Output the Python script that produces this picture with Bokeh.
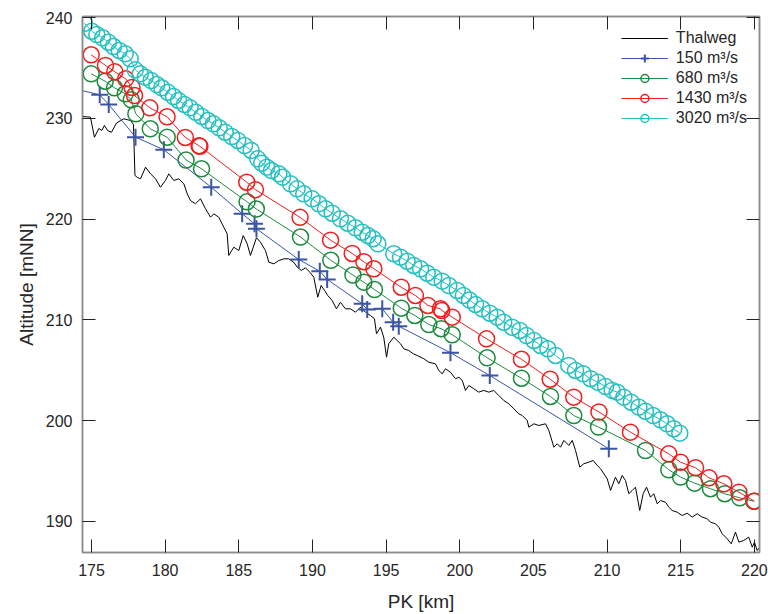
from bokeh.plotting import figure
from bokeh.models import Range1d, LinearAxis, FixedTicker, Legend, LegendItem
from bokeh.embed import file_html
from bokeh.resources import INLINE

# ---------------- data ----------------
thalweg_pk = [174.39, 174.93, 175.20, 175.50, 175.70, 175.88, 176.09, 176.36, 176.70, 177.19,
              177.65, 177.85, 177.95, 178.12, 178.33, 178.67, 179.01, 179.35, 179.68, 180.02,
              180.25, 180.59, 180.93, 181.27, 181.50, 181.72, 182.06, 182.40, 182.74, 183.08,
              183.30, 183.64, 183.98, 184.21, 184.32, 184.66, 185.00, 185.30, 185.57, 185.79,
              186.20, 186.47, 186.81, 187.04, 187.38, 187.72, 188.06, 188.39, 188.73, 188.97,
              189.24, 189.53, 189.82, 190.09, 190.36, 190.59, 190.82, 191.04, 191.34, 191.63,
              191.90, 192.24, 192.58, 192.92, 193.26, 193.60, 193.94, 194.21, 194.35, 194.62,
              194.84, 195.03, 195.18, 195.52, 195.75, 195.98, 196.20, 196.54, 196.84, 197.11,
              197.56, 197.90, 198.35, 198.58, 198.81, 199.03, 199.37, 199.71, 199.94, 200.17,
              200.39, 200.62, 200.96, 201.29, 201.63, 201.97, 202.31, 202.65, 202.99, 203.33,
              203.67, 204.01, 204.24, 204.58, 204.69, 205.03, 205.37, 205.82, 206.05, 206.39,
              206.62, 206.84, 207.07, 207.41, 207.64, 207.86, 208.15, 208.42, 208.76, 209.06,
              209.33, 209.56, 210.01, 210.24, 210.57, 210.80, 211.03, 211.25, 211.48, 211.71,
              211.93, 212.22, 212.45, 212.68, 212.95, 213.17, 213.41, 213.63, 213.97, 214.19,
              214.42, 214.76, 215.10, 215.44, 215.78, 216.12, 216.46, 216.80, 217.02, 217.36,
              217.59, 217.82, 218.16, 218.43, 218.72, 218.95, 219.28, 219.62, 219.86, 220.01,
              220.19, 220.37]
thalweg_alt = [230.18, 230.11, 228.12, 228.99, 228.79, 229.29, 228.79, 228.62, 229.53, 229.95,
               229.78, 229.38, 224.33, 224.13, 224.00, 225.15, 224.49, 224.00, 223.16, 223.83,
               224.49, 223.83, 224.00, 223.50, 222.51, 221.84, 221.52, 222.01, 221.02, 220.19,
               220.52, 220.19, 219.20, 218.54, 216.39, 217.21, 216.88, 218.37, 217.55, 216.39,
               218.15, 217.71, 216.88, 215.72, 215.56, 215.89, 216.06, 216.06, 215.72, 215.23,
               214.90, 215.17, 214.73, 214.24, 212.25, 213.41, 212.92, 212.42, 211.92, 211.10,
               211.75, 211.10, 211.10, 210.76, 211.26, 210.76, 210.43, 210.11, 208.62, 209.28,
               208.28, 206.30, 207.63, 208.28, 207.96, 207.63, 207.13, 206.96, 206.64, 206.47,
               206.14, 205.80, 205.64, 204.98, 204.65, 205.15, 204.81, 204.16, 204.31, 203.99,
               203.00, 203.49, 203.16, 202.83, 203.00, 202.83, 203.00, 202.50, 202.00, 201.68,
               201.18, 200.68, 200.52, 200.02, 199.35, 199.69, 199.52, 199.69, 199.03, 197.37,
               197.71, 197.37, 198.04, 197.54, 198.04, 197.05, 195.39, 195.72, 195.88, 196.05,
               195.56, 195.23, 194.24, 193.08, 194.39, 193.74, 194.56, 194.07, 192.75, 193.07,
               193.40, 191.09, 192.75, 193.40, 192.41, 192.75, 191.75, 192.08, 191.91, 191.42,
               191.09, 190.92, 190.59, 190.82, 190.43, 190.76, 190.43, 190.27, 189.93, 189.77,
               189.43, 188.78, 188.28, 187.78, 188.94, 187.95, 188.11, 188.44, 187.45, 187.95,
               187.12, 187.45]

q150_pk = [172.00, 175.56, 176.17, 177.99, 179.91, 183.13, 185.23, 186.07, 186.20, 189.07,
           190.50, 191.00, 193.38, 193.72, 194.74, 195.48, 195.86, 199.37, 202.04, 210.12]
q150_alt = [233.58, 232.33, 231.37, 228.13, 226.88, 223.16, 220.53, 219.53, 219.04, 215.99,
            214.83, 214.01, 211.60, 211.03, 211.10, 209.77, 209.37, 206.74, 204.48, 197.21]

q680_pk = [174.98, 175.93, 176.56, 177.29, 177.70, 178.01, 178.99, 180.14, 181.42, 182.47,
           185.56, 186.19, 189.19, 191.25, 192.75, 193.49, 194.21, 196.03, 196.95, 197.90,
           198.74, 199.49, 201.86, 204.19, 206.16, 207.74, 209.42, 212.61, 214.19, 214.99,
           215.94, 217.02, 217.99, 219.01, 219.96]
q680_alt = [234.41, 233.68, 233.03, 232.43, 231.84, 230.45, 228.96, 228.12, 225.86, 224.99,
            221.72, 221.00, 218.22, 215.91, 214.45, 213.74, 213.01, 211.16, 210.44, 209.54,
            209.12, 208.52, 206.24, 204.21, 202.40, 200.51, 199.37, 197.04, 195.13, 194.40,
            193.80, 193.25, 192.75, 192.35, 192.01]

q1430_pk = [174.98, 175.95, 176.58, 177.32, 177.75, 177.92, 178.96, 180.13, 181.37, 182.30,
            182.36, 185.54, 186.13, 189.16, 191.23, 192.70, 193.49, 194.17, 196.03, 196.99,
            197.84, 198.69, 198.78, 199.49, 201.82, 204.19, 206.14, 207.74, 209.45, 211.59,
            214.19, 214.99, 216.01, 216.92, 217.93, 218.95, 220.01]
q1430_alt = [236.30, 235.24, 234.62, 233.92, 233.06, 232.26, 231.04, 230.15, 228.10, 227.28,
             227.22, 223.66, 222.92, 220.17, 217.91, 216.59, 215.77, 215.07, 213.24, 212.42,
             211.43, 211.10, 210.93, 210.27, 208.12, 206.09, 204.11, 202.33, 200.86, 198.86,
             196.71, 195.88, 195.33, 194.33, 193.74, 192.91, 192.01]

q3020_pk = [174.52, 175.02, 175.36, 175.75, 176.15, 176.49, 176.88, 177.29, 177.63, 177.97,
            178.31, 178.65, 179.05, 179.43, 179.77, 180.18, 180.57, 180.91, 181.31, 181.70,
            182.08, 182.49, 182.90, 183.28, 183.67, 184.08, 184.52, 184.93, 185.39, 185.84,
            186.29, 186.56, 186.90, 187.22, 187.72, 187.97, 188.51, 188.96, 189.41, 189.98,
            190.43, 190.89, 191.34, 191.90, 192.40, 192.92, 193.38, 193.76, 194.12, 194.44,
            195.52, 195.98, 196.43, 196.88, 197.34, 197.79, 198.24, 198.81, 199.26, 199.83,
            200.25, 200.66, 201.07, 201.52, 202.04, 202.54, 202.99, 203.56, 204.08, 204.53,
            205.03, 205.48, 205.98, 206.50, 207.40, 207.86, 208.38, 208.88, 209.37, 209.90,
            210.35, 210.69, 211.14, 211.64, 212.16, 212.61, 213.13, 213.63, 214.08, 214.53,
            214.94]
q3020_alt = [239.43, 238.64, 238.31, 237.99, 237.55, 237.12, 236.73, 236.40, 235.90, 234.81,
             234.41, 234.08, 233.75, 233.35, 233.03, 232.59, 232.16, 231.77, 231.37, 231.04,
             230.60, 230.18, 229.78, 229.45, 229.06, 228.62, 228.19, 227.80, 227.30, 226.81,
             225.98, 225.55, 225.15, 224.82, 224.49, 224.16, 223.50, 223.00, 222.51, 222.01,
             221.52, 221.02, 220.58, 220.03, 219.59, 219.14, 218.70, 218.37, 218.05, 217.55,
             216.56, 216.22, 215.82, 215.40, 215.07, 214.63, 214.24, 213.84, 213.41, 212.92,
             212.42, 211.97, 211.53, 211.10, 210.66, 210.27, 209.77, 209.27, 208.95, 208.45,
             207.96, 207.46, 207.13, 206.47, 205.48, 204.98, 204.65, 204.16, 203.82, 203.39,
             203.00, 202.83, 202.33, 201.83, 201.34, 200.94, 200.51, 200.09, 199.69, 199.20,
             198.76]

x_ticks = [175, 180, 185, 190, 195, 200, 205, 210, 215, 220]
y_ticks = [190, 200, 210, 220, 230, 240]

labels = ["Thalweg", "150 m\u00b3/s", "680 m\u00b3/s", "1430 m\u00b3/s", "3020 m\u00b3/s"]
colors = ["#000000", "#3a55a6", "#1d8a3e", "#f21d1d", "#26c0c0"]

# ---------------- figure ----------------
FONT = "Liberation Sans"
TXT = "#262626"
FRAME = "#8c8c8c"

p = figure(width=768, height=614, output_backend="svg", toolbar_location=None,
           x_range=Range1d(174.39, 220.35), y_range=Range1d(186.92, 240.10),
           min_border_left=82, min_border_right=9, min_border_top=16, min_border_bottom=62,
           background_fill_color="white", border_fill_color="white")
p.xgrid.visible = False
p.ygrid.visible = False
p.outline_line_color = FRAME
p.outline_line_width = 1.5

for ax, ticks in ((p.xaxis[0], x_ticks), (p.yaxis[0], y_ticks)):
    ax.ticker = FixedTicker(ticks=ticks)
    ax.major_tick_in = 13
    ax.major_tick_out = 0
    ax.minor_tick_in = 0
    ax.minor_tick_out = 0
    ax.major_tick_line_color = "#222222"
    ax.axis_line_color = FRAME
    ax.axis_line_width = 1.5
    ax.major_label_text_font = FONT
    ax.major_label_text_font_size = "16px"
    ax.major_label_text_color = TXT
    ax.axis_label_text_font = FONT
    ax.axis_label_text_font_size = "19px"
    ax.axis_label_text_font_style = "normal"
    ax.axis_label_text_color = TXT

p.xaxis[0].axis_label = "PK [km]"
p.xaxis[0].major_label_standoff = 11
p.xaxis[0].axis_label_standoff = 12
p.yaxis[0].axis_label = "Altitude [mNN]"
p.yaxis[0].major_label_standoff = 10
p.yaxis[0].axis_label_standoff = 6

# mirrored ticks on top and right (labels not drawn)
for loc, ticks in (("above", x_ticks), ("right", y_ticks)):
    ax = LinearAxis(ticker=FixedTicker(ticks=ticks))
    ax.major_tick_in = 13
    ax.major_tick_out = 0
    ax.minor_tick_in = 0
    ax.minor_tick_out = 0
    ax.major_tick_line_color = "#222222"
    ax.axis_line_color = FRAME
    ax.axis_line_width = 1.5
    ax.major_label_text_font_size = "1px"
    ax.major_label_text_color = None
    ax.major_label_standoff = 0
    p.add_layout(ax, loc)

# ---------------- series ----------------
r_th = p.line(thalweg_pk, thalweg_alt, line_color=colors[0], line_width=1)

l150 = p.line(q150_pk, q150_alt, line_color=colors[1], line_width=1)
m150 = p.scatter(q150_pk, q150_alt, marker="cross", size=17, line_color=colors[1], line_width=2)

l680 = p.line(q680_pk, q680_alt, line_color=colors[2], line_width=1)
m680 = p.scatter(q680_pk, q680_alt, marker="circle", size=16, line_color=colors[2],
                 line_width=1.5, fill_color=None)

l1430 = p.line(q1430_pk, q1430_alt, line_color=colors[3], line_width=1)
m1430 = p.scatter(q1430_pk, q1430_alt, marker="circle", size=16, line_color=colors[3],
                  line_width=1.5, fill_color=None)

l3020 = p.line(q3020_pk, q3020_alt, line_color=colors[4], line_width=1)
m3020 = p.scatter(q3020_pk, q3020_alt, marker="circle", size=16, line_color=colors[4],
                  line_width=1.5, fill_color=None)

legend = Legend(items=[
    LegendItem(label=labels[0], renderers=[r_th]),
    LegendItem(label=labels[1], renderers=[l150, m150]),
    LegendItem(label=labels[2], renderers=[l680, m680]),
    LegendItem(label=labels[3], renderers=[l1430, m1430]),
    LegendItem(label=labels[4], renderers=[l3020, m3020]),
], location="top_right")
legend.background_fill_alpha = 0
legend.border_line_alpha = 0
legend.label_text_font = FONT
legend.label_text_font_size = "16px"
legend.label_text_color = TXT
legend.glyph_width = 47
legend.glyph_height = 20
legend.label_height = 20
legend.spacing = 0
legend.padding = 2
legend.margin = 10
legend.label_standoff = 8
p.add_layout(legend)

open("out.html", "w").write(file_html(p, INLINE))
